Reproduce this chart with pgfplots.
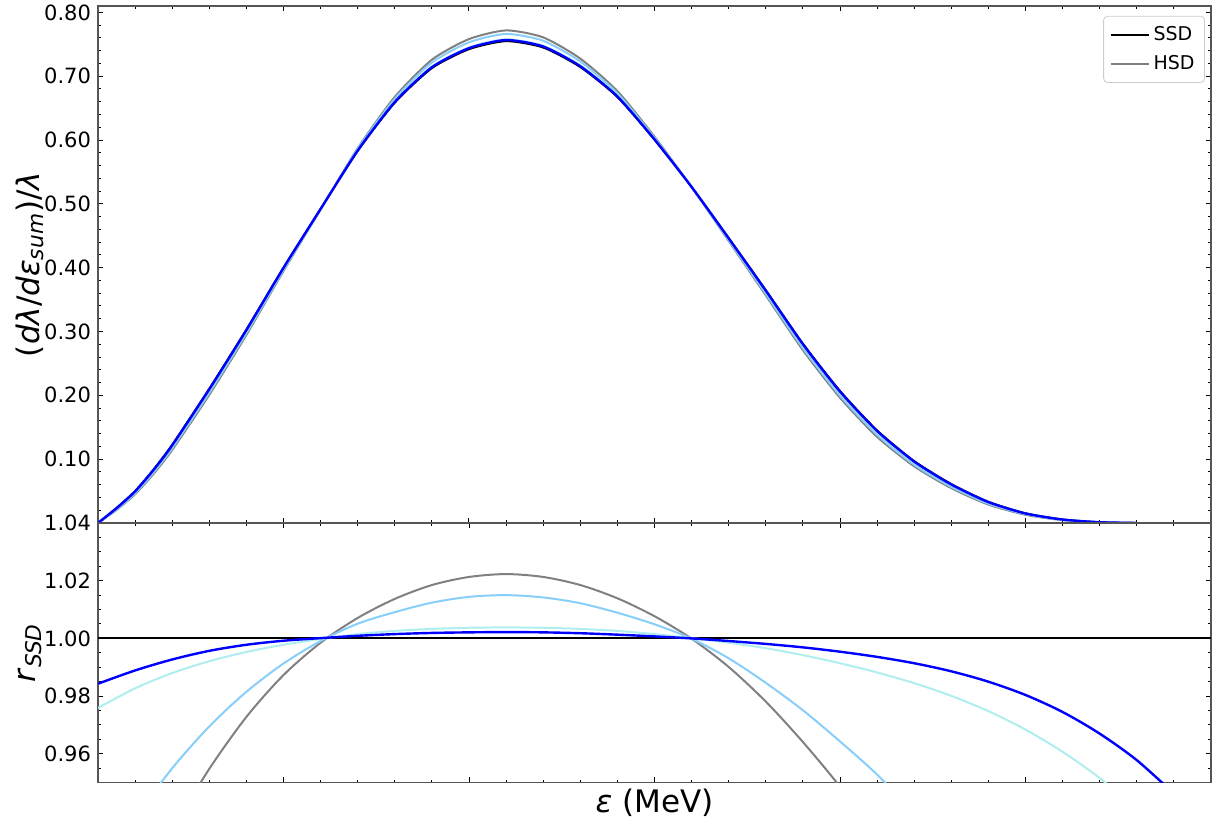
\documentclass[border=0pt]{standalone}
\usepackage{fontspec}
\setmainfont{DejaVu Sans}
\usepackage{pgfplots}
\usepackage{pgfplotstable}
\pgfplotsset{compat=1.18}

\definecolor{hsdgray}{HTML}{808080}
\definecolor{skyb}{HTML}{87CEFA}
\definecolor{paleturq}{HTML}{AFEEEE}
\definecolor{spine}{HTML}{555555}

% summed-energy spectra, normalised
\pgfplotstableread{
x    ssd    hsd    sky    pale   blue
0.0  0      0      0      0      0
0.1  0.0235 0.0205 0.0213 0.0229 0.0232
0.2  0.0500 0.0452 0.0466 0.0492 0.0495
0.3  0.0840 0.0772 0.0794 0.0827 0.0833
0.4  0.1226 0.1145 0.1171 0.1211 0.1217
0.6  0.2104 0.2009 0.2040 0.2087 0.2095
0.8  0.3030 0.2948 0.2974 0.3016 0.3023
1.0  0.4000 0.3949 0.3965 0.3991 0.3997
1.2  0.4920 0.4913 0.4916 0.4919 0.4920
1.4  0.5830 0.5871 0.5860 0.5839 0.5835
1.6  0.6586 0.6676 0.6646 0.6603 0.6596
1.8  0.7127 0.7259 0.7215 0.7151 0.7141
2.0  0.7424 0.7582 0.7531 0.7451 0.7440
2.2  0.7550 0.7718 0.7663 0.7579 0.7567
2.4  0.7450 0.7609 0.7556 0.7478 0.7466
2.6  0.7144 0.7276 0.7231 0.7168 0.7157
2.8  0.6674 0.6767 0.6733 0.6691 0.6683
3.0  0.6006 0.6052 0.6035 0.6015 0.6010
3.2  0.5265 0.5264 0.5264 0.5266 0.5265
3.4  0.4464 0.4420 0.4433 0.4457 0.4460
3.6  0.3647 0.3567 0.3591 0.3635 0.3640
3.8  0.2810 0.2709 0.2740 0.2794 0.2801
4.0  0.2069 0.1963 0.1995 0.2051 0.2059
4.2  0.1450 0.1350 0.1382 0.1433 0.1441
4.4  0.0970 0.0888 0.0911 0.0955 0.0962
4.6  0.0610 0.0546 0.0565 0.0598 0.0603
4.8  0.0332 0.0289 0.0303 0.0324 0.0327
5.0  0.0152 0.0129 0.0137 0.0147 0.0149
5.2  0.0055 0.0045 0.0048 0.0053 0.0054
5.4  0.0012 0.0010 0.0010 0.0011 0.0012
5.6  0      0      0      0      0
}\spectra

% ratios to the SSD spectrum
\pgfplotstableread{
x    hsd    sky    pale   blue
0.0  nan    nan    0.9759 0.9843
0.2  nan    0.9380 0.9827 0.9889
0.4  0.9338 0.9550 0.9880 0.9927
0.6  0.9548 0.9695 0.9921 0.9957
0.8  0.9728 0.9815 0.9953 0.9978
1.0  0.9873 0.9913 0.9978 0.9992
1.2  0.9985 0.9991 0.9998 1.0001
1.4  1.0071 1.0051 1.0015 1.0009
1.6  1.0137 1.0091 1.0026 1.0015
1.8  1.0185 1.0124 1.0033 1.0019
2.0  1.0213 1.0144 1.0037 1.0021
2.2  1.0223 1.0150 1.0038 1.0022
2.4  1.0213 1.0142 1.0037 1.0021
2.6  1.0185 1.0122 1.0033 1.0018
2.8  1.0139 1.0089 1.0026 1.0013
3.0  1.0077 1.0049 1.0015 1.0007
3.2  0.9999 0.9999 1.0001 1.0000
3.4  0.9901 0.9931 0.9985 0.9991
3.6  0.9781 0.9846 0.9966 0.9981
3.8  0.9641 0.9751 0.9942 0.9969
4.0  0.9486 0.9643 0.9914 0.9954
4.2  0.9310 0.9528 0.9882 0.9936
4.4  nan    0.9393 0.9845 0.9914
4.6  nan    nan    0.9801 0.9886
4.8  nan    nan    0.9748 0.9850
5.0  nan    nan    0.9684 0.9804
5.2  nan    nan    0.9607 0.9745
5.4  nan    nan    0.9516 0.9670
5.6  nan    nan    0.9408 0.9578
5.8  nan    nan    nan    0.9462
}\ratios

\pgfplotsset{
  panel/.style={
    scale only axis, width=556.5pt,
    xmin=0, xmax=6,
    xtick={0,1,2,3,4,5,6}, minor x tick num=4, xticklabels={},
    tick align=inside, xtick pos=both, ytick pos=both,
    major tick length=2.6pt, minor tick length=1.4pt,
    tick style={black, line width=0.5pt},
    axis line style={spine, line width=0.7pt},
    tick label style={font=\fontsize{10.5}{12}\selectfont},
    /pgf/number format/assume math mode=true,
    every axis y label/.style={at={(axis description cs:-0.061,0.5)},
      rotate=90, anchor=center, font=\fontsize{15.5}{18}\selectfont},
    every axis x label/.style={at={(axis description cs:0.5,-0.077)},
      anchor=center, font=\fontsize{15.5}{18}\selectfont},
    clip=true,
  },
}

\begin{document}
\begin{tikzpicture}
\useasboundingbox (-49pt,-148.5pt) rectangle (558.5pt,261.5pt);

\begin{axis}[panel,
  at={(0,0)}, anchor=south west, height=258.5pt,
  ymin=0, ymax=0.81,
  ytick={0,0.1,0.2,0.3,0.4,0.5,0.6,0.7,0.8},
  yticklabels={,0.10,0.20,0.30,0.40,0.50,0.60,0.70,0.80},
  minor ytick={0.02,0.04,...,0.81},
  ylabel={(\textit{dλ}/\textit{dε}\textsubscript{\textit{sum}})/\textit{λ}},
  legend style={at={(axis description cs:0.9946,0.981)}, anchor=north east,
    draw=black!20, rounded corners=2pt, fill=white,
    font=\fontsize{9.5}{11}\selectfont, row sep=2pt, inner sep=3pt,
    cells={anchor=west}},
  legend image code/.code={\draw[#1] (0pt,0pt) -- (19pt,0pt);},
]
\addplot[black, line width=1pt, smooth, tension=0.4] table[x=x, y=ssd] {\spectra};
\addlegendentry{SSD}
\addplot[hsdgray, line width=1pt, smooth, tension=0.4] table[x=x, y=hsd] {\spectra};
\addlegendentry{HSD}
\addplot[skyb, line width=1pt, smooth, tension=0.4, forget plot] table[x=x, y=sky] {\spectra};
\addplot[paleturq, line width=1pt, smooth, tension=0.4, forget plot] table[x=x, y=pale] {\spectra};
\addplot[blue, line width=1.2pt, smooth, tension=0.4, forget plot] table[x=x, y=blue] {\spectra};
\end{axis}

\begin{axis}[panel,
  at={(0,0)}, anchor=north west, height=129.85pt,
  ymin=0.95, ymax=1.04,
  ytick={0.96,0.98,1.00,1.02,1.04},
  yticklabels={0.96,0.98,1.00,1.02,1.04},
  minor ytick={0.955,0.965,0.97,0.975,0.985,0.99,0.995,1.005,1.01,1.015,1.025,1.03,1.035},
  ylabel={\textit{r}\textsubscript{\textit{SSD}}},
  xlabel={\textit{ε} (MeV)},
]
\addplot[black, line width=1pt] coordinates {(0,1) (6,1)};
\addplot[hsdgray, line width=1pt, smooth] table[x=x, y=hsd] {\ratios};
\addplot[skyb, line width=1pt, smooth] table[x=x, y=sky] {\ratios};
\addplot[paleturq, line width=1pt, smooth] table[x=x, y=pale] {\ratios};
\addplot[blue, line width=1.2pt, smooth] table[x=x, y=blue] {\ratios};
\end{axis}
\end{tikzpicture}
\end{document}
